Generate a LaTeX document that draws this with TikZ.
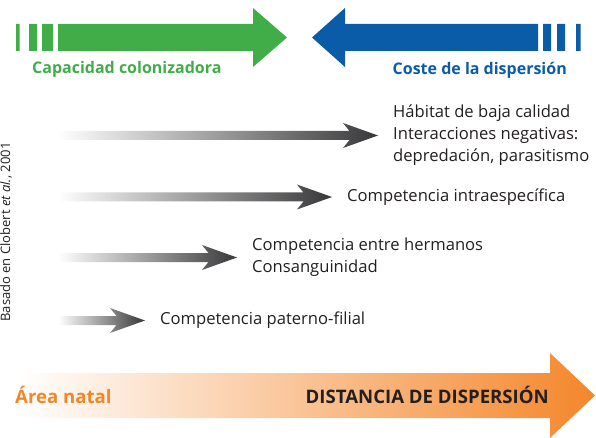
\documentclass[tikz,border=0pt]{standalone}
\usepackage{fontspec}
\setmainfont{Open Sans}
\usetikzlibrary{calc,positioning}

\definecolor{verde}{HTML}{41AD49}
\definecolor{azul}{HTML}{0A5CA8}
\definecolor{naranja}{HTML}{F4862A}
\definecolor{gris}{HTML}{38383A}
\definecolor{texto}{HTML}{231F20}

\tikzset{
  etiqueta/.style={anchor=west, inner sep=0pt, align=left, text=texto, font=\fontsize{16.6}{22}\selectfont},
  titulo/.style={inner sep=0pt, font=\bfseries\fontsize{16}{18}\selectfont},
  rotulo/.style={inner sep=0pt, font=\bfseries\fontsize{18.6}{20}\selectfont},
}

% flecha gris con degradado: de #1 a #2
\newcommand{\flechagris}[2]{%
  \shade[left color=white, right color=gris] let \p1=(#1), \p2=(#2) in
    (\x1,\y1-4.5pt) -- (\x2-28.5pt,\y1-4.5pt) -- (\x2-35pt,\y1-12.5pt) -- (\x2,\y1)
    -- (\x2-35pt,\y1+12.5pt) -- (\x2-28.5pt,\y1+4.5pt) -- (\x1,\y1+4.5pt) -- cycle;}

\begin{document}
\begin{tikzpicture}[x=1pt,y=-1pt,node distance=15pt]
\useasboundingbox (0,0) rectangle (596,438);

% flecha verde
\fill[verde] (16,24) rectangle (19.5,51) (29,24) rectangle (37,51) (42,24) rectangle (53,51);
\fill[verde] (58,24) -- (253,24) -- (253,8) -- (287,37.5) -- (253,67) -- (253,51) -- (58,51) -- cycle;
\node[titulo, text=verde, anchor=base west] (capac) at (32,74) {Capacidad colonizadora};

% flecha azul
\fill[azul] (538,24) -- (345,24) -- (345,8) -- (312,37.5) -- (345,67) -- (345,51) -- (538,51) -- cycle;
\fill[azul] (543,24) rectangle (551,51) (557,24) rectangle (565,51) (576,24) rectangle (580.5,51);
\node[titulo, text=azul, anchor=base east] (coste) at (567,75) {Coste de la dispersión};

% fuente
\node[rotate=90, inner sep=0pt, text=texto, font=\fontsize{13}{15}\selectfont] (fuente) at (6,232) {Basado en Clobert \textit{et al.}, 2001};

% flechas grises
\coordinate (ini1) at (58,135.5);
\coordinate (fin1) at (378,135.5);
\coordinate (ini2) at (58,197);
\coordinate (fin2) at (332,197);
\coordinate (ini3) at (58,257.5);
\coordinate (fin3) at (237,257.5);
\coordinate (ini4) at (58,320.5);
\coordinate (fin4) at (145,320.5);

\flechagris{ini1}{fin1}
\flechagris{ini2}{fin2}
\flechagris{ini3}{fin3}
\flechagris{ini4}{fin4}

\node[etiqueta, right=of fin1] (habitat) {Hábitat de baja calidad\\Interacciones negativas:\\depredación, parasitismo};
\node[etiqueta, right=of fin2] (intra) {Competencia intraespecífica};
\node[etiqueta, right=of fin3] (herm) {Competencia entre hermanos\\Consanguinidad};
\node[etiqueta, right=of fin4] (pater) {Competencia paterno-filial};

% flecha naranja
\shade[left color=white, right color=naranja] (18,373) -- (550,373) -- (550,353) -- (595,395.5)
  -- (550,438) -- (550,418) -- (18,418) -- cycle;
\node[rotulo, text=naranja, anchor=base west] (natal) at (15,403) {Área natal};
\node[rotulo, text=texto, anchor=base east] (dist) at (549,403) {DISTANCIA DE DISPERSIÓN};

\end{tikzpicture}
\end{document}
